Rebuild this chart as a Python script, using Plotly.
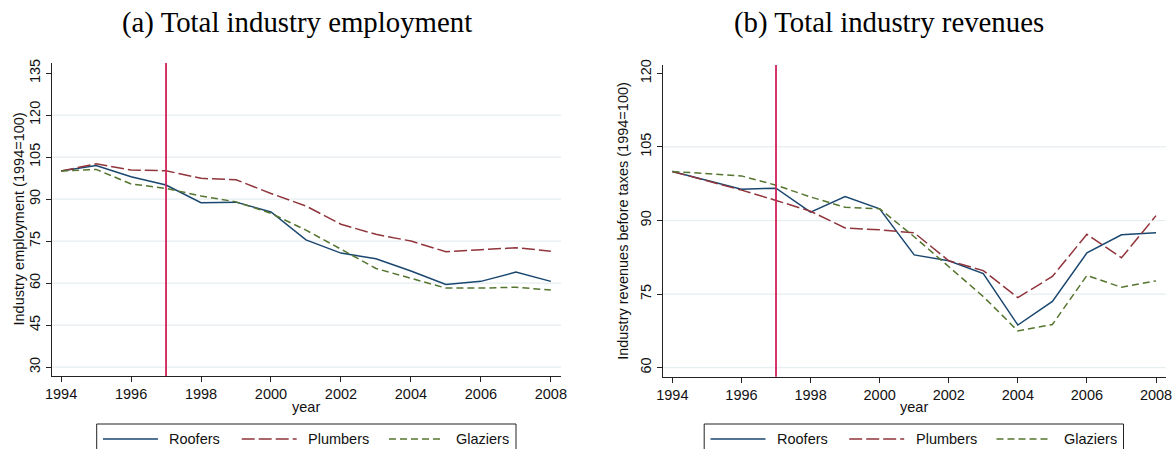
import plotly.graph_objects as go

# ---- data -----------------------------------------------------------------
years = list(range(1994, 2009))

series_names = ["Roofers", "Plumbers", "Glaziers"]

emp_roofers = [100, 102.0, 98.0, 95.0, 88.7, 88.9, 85.4, 75.4, 70.7, 68.7, 64.3, 59.5, 60.6, 63.9, 60.6]
emp_plumbers = [100, 102.6, 100.4, 100.1, 97.4, 96.9, 92.0, 87.5, 81.0, 77.4, 75.0, 71.2, 71.9, 72.6, 71.4]
emp_glaziers = [100, 100.6, 95.4, 93.8, 91.1, 89.0, 84.9, 78.9, 72.1, 65.2, 61.7, 58.2, 58.2, 58.5, 57.5]

rev_roofers = [100, 98.2, 96.4, 96.6, 91.7, 94.9, 92.4, 83.0, 81.8, 79.2, 68.7, 73.5, 83.4, 87.1, 87.5]
rev_plumbers = [100, 98.1, 96.2, 94.1, 91.9, 88.5, 88.1, 87.5, 81.8, 79.8, 74.3, 78.6, 87.2, 82.4, 91.0]
rev_glaziers = [100, 99.5, 99.1, 97.2, 94.8, 92.7, 92.4, 86.7, 80.6, 74.5, 67.5, 68.8, 78.8, 76.4, 77.7]

event_year = 1997

x_ticks = [1994, 1996, 1998, 2000, 2002, 2004, 2006, 2008]
emp_ticks = [30, 45, 60, 75, 90, 105, 120, 135]
rev_ticks = [60, 75, 90, 105, 120]

panel_titles = ["(a) Total industry employment", "(b) Total industry revenues"]
y_titles = ["Industry employment (1994=100)", "Industry revenues before taxes (1994=100)"]

# ---- styling --------------------------------------------------------------
W, H = 1174, 449
colors = ["#1a476f", "#90353b", "#55752f"]
dashes = ["solid", "13px,4px", "7px,4px"]
grid_color = "#e6eef1"
vline_color = "#cf2257"
sans = "Liberation Sans, Arial, sans-serif"
serif = "Liberation Serif, Times New Roman, serif"
fs = 14.5


def px(x):
    return x / W


def py(y):
    return 1 - y / H


fig = go.Figure()

panels = [
    dict(data=[emp_roofers, emp_plumbers, emp_glaziers], xa="x", ya="y",
         xdom=[px(52), px(561)], ydom=[py(376), py(63)],
         xr=[1993.74, 2008.29], yr=[26.8, 138.6], ticks=emp_ticks,
         title_x=296.5, ytitle_x=18, legend_dx=0, year_x=306),
    dict(data=[rev_roofers, rev_plumbers, rev_glaziers], xa="x2", ya="y2",
         xdom=[px(662.7), px(1165.7)], ydom=[py(376.7), py(65)],
         xr=[1993.72, 2008.28], yr=[58.17, 121.7], ticks=rev_ticks,
         title_x=889, ytitle_x=623, legend_dx=607.5, year_x=914),
]

shapes = []
annotations = []

for i, p in enumerate(panels):
    sfx = "" if i == 0 else "2"
    # gridlines (all ticks except the topmost)
    for v in p["ticks"][:-1]:
        shapes.append(dict(type="line", xref=f"x{sfx} domain", yref=p["ya"],
                           x0=0, x1=1, y0=v, y1=v, layer="below",
                           line=dict(color=grid_color, width=1.3)))
    for name, vals, c, d in zip(series_names, p["data"], colors, dashes):
        fig.add_trace(go.Scatter(x=years, y=vals, mode="lines", name=name,
                                 xaxis=p["xa"], yaxis=p["ya"], showlegend=False,
                                 line=dict(color=c, width=1.5, dash=d)))
    # policy year marker
    shapes.append(dict(type="line", xref=p["xa"], yref=f"y{sfx} domain",
                       x0=event_year, x1=event_year, y0=0, y1=1,
                       line=dict(color=vline_color, width=1.8)))
    axis_common = dict(showline=True, linecolor="#222222", linewidth=1,
                       ticks="outside", ticklen=5, tickcolor="#222222",
                       showgrid=False, zeroline=False, automargin=False,
                       tickfont=dict(family=sans, size=fs, color="#111111"))
    fig.update_layout({
        f"xaxis{sfx}": dict(domain=p["xdom"], range=p["xr"], tickvals=x_ticks,
                            anchor=p["ya"], **axis_common),
        f"yaxis{sfx}": dict(domain=p["ydom"], range=p["yr"], tickvals=p["ticks"],
                            tickangle=-90, anchor=p["xa"], **axis_common),
    })
    # panel title
    annotations.append(dict(text=panel_titles[i], x=px(p["title_x"]), y=py(22),
                            xref="paper", yref="paper", showarrow=False,
                            xanchor="center", yanchor="middle",
                            font=dict(family=serif, size=28.8, color="black")))
    # y-axis title
    annotations.append(dict(text=y_titles[i], x=px(p["ytitle_x"]),
                            y=(p["ydom"][0] + p["ydom"][1]) / 2,
                            xref="paper", yref="paper", showarrow=False,
                            textangle=-90, xanchor="center", yanchor="middle",
                            font=dict(family=sans, size=fs, color="#111111")))
    # x-axis title
    annotations.append(dict(text="year", x=px(p["year_x"]), y=py(407),
                            xref="paper", yref="paper", showarrow=False,
                            xanchor="center", yanchor="middle",
                            font=dict(family=sans, size=fs, color="#111111")))
    # legend box
    dx = p["legend_dx"]
    shapes.append(dict(type="rect", xref="paper", yref="paper",
                       x0=px(96.7 + dx), x1=px(516 + dx), y0=py(470), y1=py(424),
                       line=dict(color="#222222", width=1), fillcolor="white",
                       layer="above"))
    sample_x = [103, 241.7, 389]
    text_x = [167.3, 306, 454]
    for name, c, d, sx, tx in zip(series_names, colors, dashes, sample_x, text_x):
        shapes.append(dict(type="line", xref="paper", yref="paper",
                           x0=px(sx + dx), x1=px(sx + 55 + dx), y0=py(439), y1=py(439),
                           line=dict(color=c, width=1.5, dash=d), layer="above"))
        annotations.append(dict(text=name, x=px(tx + dx), y=py(439),
                                xref="paper", yref="paper", showarrow=False,
                                xanchor="left", yanchor="middle",
                                font=dict(family=sans, size=fs, color="#111111")))

fig.update_layout(
    width=W, height=H,
    margin=dict(l=0, r=0, t=0, b=0),
    paper_bgcolor="white", plot_bgcolor="white",
    showlegend=False,
    shapes=shapes, annotations=annotations,
)

fig.write_html("out.html")
